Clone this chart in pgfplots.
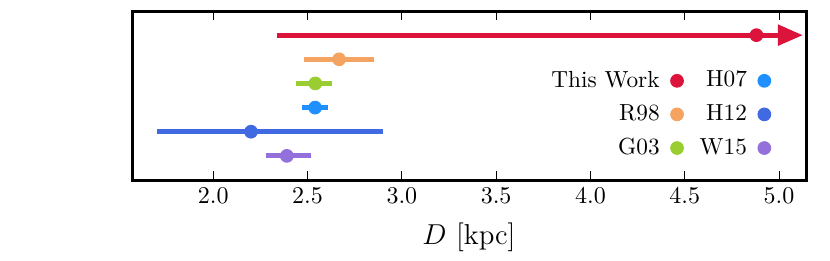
\documentclass[border=0pt]{standalone}
\usepackage{pgfplots}
\pgfplotsset{compat=1.18}
\usetikzlibrary{arrows.meta}
\definecolor{cTW}{RGB}{220,20,60}
\definecolor{cR98}{RGB}{244,164,96}
\definecolor{cG03}{RGB}{154,205,50}
\definecolor{cH07}{RGB}{30,144,255}
\definecolor{cH12}{RGB}{65,105,225}
\definecolor{cW15}{RGB}{147,112,219}
\begin{document}
\begin{tikzpicture}
\useasboundingbox (0,0) rectangle (345.83pt,-108.33pt);
\begin{axis}[
  at={(55pt,-75pt)}, anchor=south west,
  scale only axis, width=280.83pt, height=70.42pt,
  xmin=1.569, xmax=5.143, ymin=0, ymax=7,
  ytick=\empty,
  xtick={2,2.5,3,3.5,4,4.5,5},
  xticklabel style={/pgf/number format/.cd, fixed, fixed zerofill, precision=1},
  tick align=inside,
  major tick length=3.75pt,
  tick style={line width=0.4pt, black},
  axis line style={line width=1.25pt},
  xlabel={\large $D$ [kpc]},
  xlabel style={yshift=-1pt},
  clip=false,
  legend columns=2,
  legend plot pos=right,
  legend cell align=right,
  legend image code/.code={\draw[mark repeat=2,mark phase=2,#1] plot coordinates {(0cm,0cm) (0.15cm,0cm) (0.3cm,0cm)};},
  legend style={at={(0.959,0.705)}, anchor=north east, draw=none, fill=none,
    font=\fontsize{9.7}{11}\selectfont,
    row sep=1.8pt,
    /tikz/every even column/.append style={column sep=4.8pt},
    /tikz/every odd column/.append style={column sep=2.6pt}},
  bar/.style={line width=2.1pt, forget plot},
  pt/.style={only marks, mark=*, mark size=2.65pt, forget plot},
]
% This Work
\addplot[bar, color=cTW, -{Triangle[length=10.5pt,width=8.4pt]}] coordinates {(2.336,6) (5.127,6)};
\addplot[pt, color=cTW] coordinates {(4.88,6)};
% R98
\addplot[bar, color=cR98] coordinates {(2.479,5) (2.852,5)};
\addplot[pt, color=cR98] coordinates {(2.667,5)};
% G03
\addplot[bar, color=cG03] coordinates {(2.438,4) (2.629,4)};
\addplot[pt, color=cG03] coordinates {(2.541,4)};
% H07
\addplot[bar, color=cH07] coordinates {(2.47,3) (2.61,3)};
\addplot[pt, color=cH07] coordinates {(2.54,3)};
% H12
\addplot[bar, color=cH12] coordinates {(1.70,2) (2.90,2)};
\addplot[pt, color=cH12] coordinates {(2.20,2)};
% W15
\addplot[bar, color=cW15] coordinates {(2.28,1) (2.52,1)};
\addplot[pt, color=cW15] coordinates {(2.39,1)};
% legend (row-wise: This Work, H07 / R98, H12 / G03, W15)
\addlegendimage{only marks, mark=*, mark size=2.65pt, color=cTW}
\addlegendentry{This Work}
\addlegendimage{only marks, mark=*, mark size=2.65pt, color=cH07}
\addlegendentry{H07}
\addlegendimage{only marks, mark=*, mark size=2.65pt, color=cR98}
\addlegendentry{R98}
\addlegendimage{only marks, mark=*, mark size=2.65pt, color=cH12}
\addlegendentry{H12}
\addlegendimage{only marks, mark=*, mark size=2.65pt, color=cG03}
\addlegendentry{G03}
\addlegendimage{only marks, mark=*, mark size=2.65pt, color=cW15}
\addlegendentry{W15}
\end{axis}
\end{tikzpicture}
\end{document}
